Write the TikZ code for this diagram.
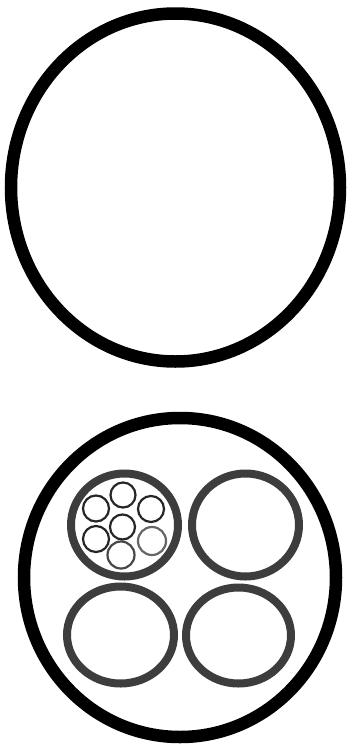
\documentclass[tikz,border=0pt]{standalone}
\begin{document}
\begin{tikzpicture}[x=1pt,y=-1pt,
  bigring/.style={draw=black,line width=12.5pt},
  subring/.style={draw=black!76,line width=8pt},
  strand/.style={draw=black!85,line width=2.2pt}]
\useasboundingbox (0,0) rectangle (349,747);
\fill[white] (0,0) rectangle (349,747);
% top cable
\draw[bigring] (175.5,187.5) ellipse [x radius=164.5, y radius=174];
% bottom cable
\draw[bigring] (180,577.5) ellipse [x radius=156, y radius=159.5];
\draw[subring] (124.5,525) ellipse [x radius=53.5, y radius=51.5];
\draw[subring] (245.5,525) ellipse [x radius=53.5, y radius=51.5];
\draw[subring] (120.5,635) ellipse [x radius=53.5, y radius=48.5];
\draw[subring] (238.5,635.5) ellipse [x radius=52.5, y radius=48];
% strands
\draw[strand] (122.5,527) circle (12.5);
\draw[strand] (123,495) circle (12.5);
\draw[strand] (96,508.5) circle (13);
\draw[strand] (151,509) circle (13);
\draw[strand] (96,539) circle (13);
\draw[strand,draw=black!60] (152,541) circle (14);
\draw[strand,draw=black!72] (121,555) circle (13.5);
\end{tikzpicture}
\end{document}
